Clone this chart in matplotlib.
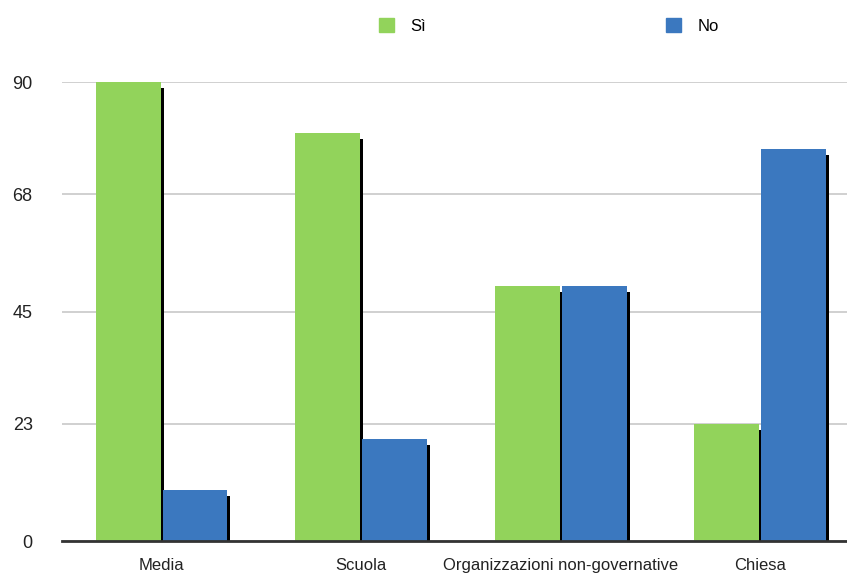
import matplotlib.pyplot as plt
import numpy as np
from matplotlib.patches import Patch

categories = ["Media", "Scuola", "Organizzazioni non-governative", "Chiesa"]
si_values = [90, 80, 50, 23]
no_values = [10, 20, 50, 77]
y_ticks = [0, 23, 45, 68, 90]

green = "#92d35b"
blue = "#3b78bf"

plt.rcParams['font.family'] = ['Liberation Sans', 'DejaVu Sans']

fig = plt.figure(figsize=(8.47, 5.75), dpi=100)
ax = fig.add_axes([0.073, 0.059, 0.927, 0.798])

x = np.arange(len(categories))
w = 0.325
gap = 0.005
shadow_dx = 0.015

si_x = x - w / 2 - gap
no_x = x + w / 2 + gap

# dark shadow on the right of each bar
for xs, vals in ((si_x, si_values), (no_x, no_values)):
    ax.bar(xs + shadow_dx, np.array(vals) - 1.2, width=w, color="black", zorder=2)

ax.bar(si_x, si_values, width=w, color=green, zorder=3)
ax.bar(no_x, no_values, width=w, color=blue, zorder=3)

ax.set_xlim(-0.5, 3.435)
ax.set_ylim(0, 90)
ax.set_yticks(y_ticks)
ax.yaxis.grid(True, color="#c8c8c8", linewidth=1.2, zorder=0)
ax.set_axisbelow(True)

ax.set_xticks(x)
ax.set_xticklabels(categories, fontsize=12, color="#222222")
ax.tick_params(axis="x", length=0, pad=12)
ax.tick_params(axis="y", length=0, pad=21, labelsize=13, labelcolor="#222222")

for s in ("top", "right", "left"):
    ax.spines[s].set_visible(False)
ax.spines["bottom"].set_color("#333333")
ax.spines["bottom"].set_linewidth(2)
ax.spines["bottom"].set_zorder(4)

handles = [Patch(color=green, label="Sì"), Patch(color=blue, label="No")]
fig.legend(handles=handles, loc="center", bbox_to_anchor=(0.648, 0.955), ncol=2,
           frameon=False, fontsize=12, handlelength=0.9, handleheight=0.9,
           columnspacing=14.4, handletextpad=1.0)

fig.savefig("out.png", dpi=100, facecolor="white")
